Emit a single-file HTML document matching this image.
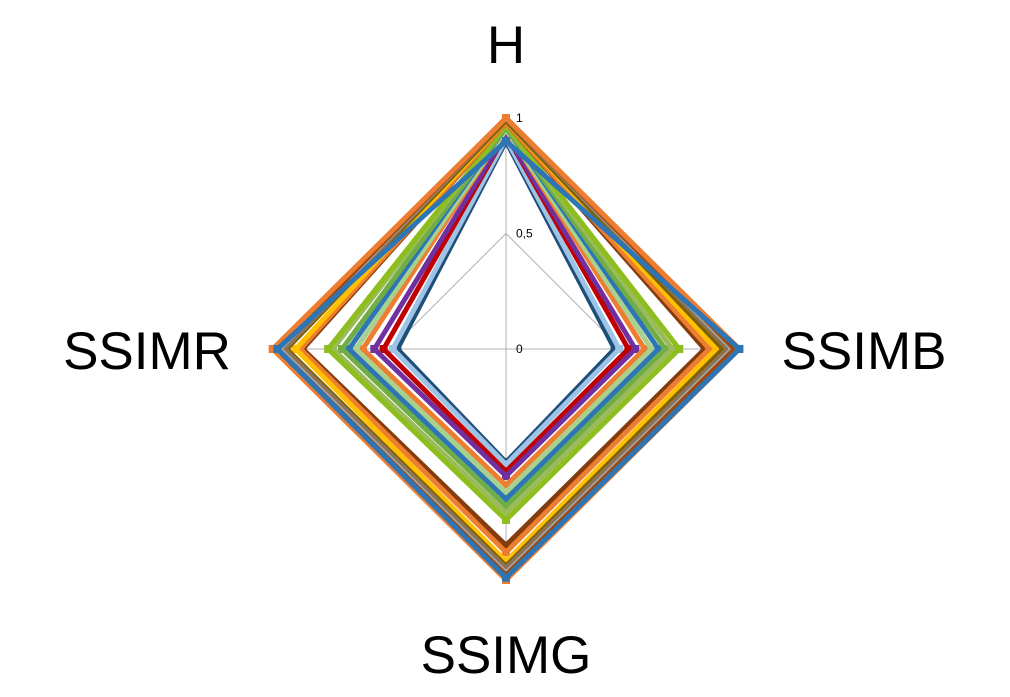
<!DOCTYPE html>
<html><head><meta charset="utf-8">
<style>
html,body{margin:0;padding:0;background:#fff;}
svg{display:block;font-family:"Liberation Sans",sans-serif;}
</style></head>
<body>
<svg id="chart" width="1010" height="697" viewBox="0 0 1010 697" xmlns="http://www.w3.org/2000/svg">
<g id="grid"></g>
<g id="series"></g>
<g id="labels"></g>
</svg>
<script>
const axes = ["H","SSIMB","SSIMG","SSIMR"];
const ticks = [0, 0.5, 1];
const tickLabels = ["0","0,5","1"];
const seriesColors = ["#1F4E79","#9DC3E6","#C00000","#7030A0","#ED7D31","#A9D18E","#2E75B6","#70AD47","#9BBB59","#8EBE1E","#843C0C","#ED7D31","#FFC000","#7F6000","#8C7355","#A5A5A5","#9E480E","#ED7D31","#2E75B6"];
// values in order [H, SSIMB, SSIMG, SSIMR]
const seriesValues = [
 [0.90,0.47,0.49,0.47],
 [0.91,0.49,0.50,0.49],
 [0.93,0.53,0.53,0.53],
 [0.93,0.56,0.55,0.57],
 [0.95,0.60,0.59,0.62],
 [0.95,0.63,0.62,0.65],
 [0.96,0.66,0.65,0.68],
 [0.96,0.69,0.68,0.71],
 [0.97,0.72,0.71,0.75],
 [0.97,0.75,0.74,0.77],
 [0.98,0.86,0.85,0.88],
 [0.98,0.88,0.88,0.89],
 [0.99,0.91,0.92,0.91],
 [0.99,0.94,0.94,0.95],
 [1.00,0.96,0.95,0.96],
 [1.00,0.98,0.97,0.98],
 [1.00,0.99,0.98,0.99],
 [1.00,1.01,1.00,1.01],
 [0.90,1.01,0.99,0.99]
];
const cx=506, cy=349, R=231;
const NS="http://www.w3.org/2000/svg";
function angle(i){return -Math.PI/2 + i*Math.PI*2/axes.length;}
function pt(i,v){const a=angle(i);return [cx+Math.cos(a)*R*v, cy+Math.sin(a)*R*v];}
function mk(tag,attrs,parent){const e=document.createElementNS(NS,tag);for(const k in attrs)e.setAttribute(k,attrs[k]);parent.appendChild(e);return e;}
const grid=document.getElementById('grid');
ticks.forEach((t,ti)=>{
  if(t===0) return;
  const p=axes.map((_,i)=>pt(i,t).join(',')).join(' ');
  const g=mk('polygon',{points:p,fill:'none',stroke:'#b3b3b3','stroke-width':1},grid);
  
  
});
axes.forEach((a,i)=>{
  const [x,y]=pt(i,1);
  const l=mk('line',{x1:cx,y1:cy,x2:x,y2:y,stroke:'#b3b3b3','stroke-width':1},grid);
  
  
});
ticks.forEach((t,ti)=>{
  const [x,y]=pt(0,t);
  const tx=mk('text',{x:x+10,y:y+4,'font-size':12,fill:'#000'},grid);
  tx.textContent=tickLabels[ti];
  
  
});
const sg=document.getElementById('series');
seriesValues.forEach((vals,s)=>{
  const col=seriesColors[s%seriesColors.length];
  const pts=vals.map((v,i)=>pt(i,v));
  const poly=mk('polygon',{points:pts.map(p=>p.join(',')).join(' '),fill:'none',stroke:col,'stroke-width':5,'stroke-linejoin':'miter'},sg);
  
  
  pts.forEach(p=>{
    const m=mk('rect',{x:p[0]-4,y:p[1]-4,width:8,height:8,fill:col},sg);
    
    
  });
});
const lg=document.getElementById('labels');
const labelPos=[[506,63,'middle'],[864,369,'middle'],[506,673,'middle'],[147,369,'middle']];
axes.forEach((a,i)=>{
  const t=mk('text',{x:labelPos[i][0],y:labelPos[i][1],'font-size':53,'text-anchor':labelPos[i][2],fill:'#000'},lg);
  t.textContent=a;
  
  
});
</script>
</body></html>
